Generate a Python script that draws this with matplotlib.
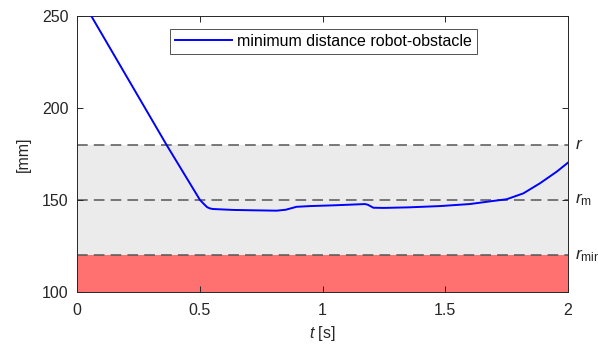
import matplotlib
matplotlib.use("Agg")
import matplotlib.pyplot as plt

plt.rcParams['font.family'] = ['Liberation Sans', 'DejaVu Sans']
plt.rcParams['mathtext.fontset'] = 'custom'
plt.rcParams['mathtext.it'] = 'Liberation Sans:italic'
plt.rcParams['mathtext.rm'] = 'Liberation Sans'

# data
t = [0.0, 0.056, 0.365, 0.501, 0.520, 0.530, 0.542, 0.554, 0.637, 0.72, 0.813, 0.85, 0.894,
     0.95, 1.044, 1.12, 1.173, 1.185, 1.207, 1.25, 1.35, 1.479, 1.6, 1.696, 1.75,
     1.818, 1.886, 1.954, 2.0]
dist = [262.7, 250.5, 179.9, 150.0, 147.4, 146.1, 145.4, 145.1, 144.6, 144.4, 144.2, 144.7, 146.3,
        146.7, 147.1, 147.5, 147.8, 147.4, 145.8, 145.7, 146.0, 146.7, 147.8, 149.5, 150.4,
        153.6, 159.1, 165.4, 170.3]
r_val, rm_val, rmin_val = 180, 150, 120
xticks = [0, 0.5, 1, 1.5, 2]
yticks = [100, 150, 200, 250]

fig = plt.figure(figsize=(5.98, 3.49), dpi=100)
ax = fig.add_axes([77/598, 57/349, 491/598, 276/349])

ax.axhspan(rmin_val, r_val, color='#ebebeb', lw=0, zorder=0)
ax.axhspan(100, rmin_val, color='#ff7070', lw=0, zorder=0)
for v in (r_val, rm_val, rmin_val):
    ax.axhline(v, color='#555555', lw=1.1, dashes=(7, 4), zorder=1)

ax.plot(t, dist, color='#0000ff', lw=1.4, label='minimum distance robot-obstacle', zorder=3)

ax.set_xlim(0, 2)
ax.set_ylim(100, 250)
ax.set_xticks(xticks)
ax.set_xticklabels(['0', '0.5', '1', '1.5', '2'])
ax.set_yticks(yticks)
ax.tick_params(direction='in', top=True, right=True, labelsize=11.5, colors='#262626',
               length=4, width=0.7)
ax.tick_params(axis='x', pad=8)
ax.tick_params(axis='y', pad=6)
for s in ax.spines.values():
    s.set_color('#262626')
    s.set_linewidth(0.7)

ax.set_xlabel('$t$ [s]', fontsize=11.5, color='#262626', labelpad=4)
ax.set_ylabel('[mm]', fontsize=11.5, color='#262626', labelpad=8)

for v, lab in ((r_val, '$r$'), (rm_val, '$r_{\\mathrm{m}}$'), (rmin_val, '$r_{\\mathrm{min}}$')):
    ax.text(2.028, v, lab, fontsize=12.5, color='#262626', va='center', ha='left', clip_on=False)

leg = ax.legend(loc='upper center', bbox_to_anchor=(0.502, 0.953), fontsize=11.5,
                handlelength=3.6, frameon=True, fancybox=False, borderpad=0.3,
                handletextpad=0.3, borderaxespad=0)
leg.get_frame().set_edgecolor('#262626')
leg.get_frame().set_linewidth(0.7)

fig.savefig('out.png', dpi=100)
